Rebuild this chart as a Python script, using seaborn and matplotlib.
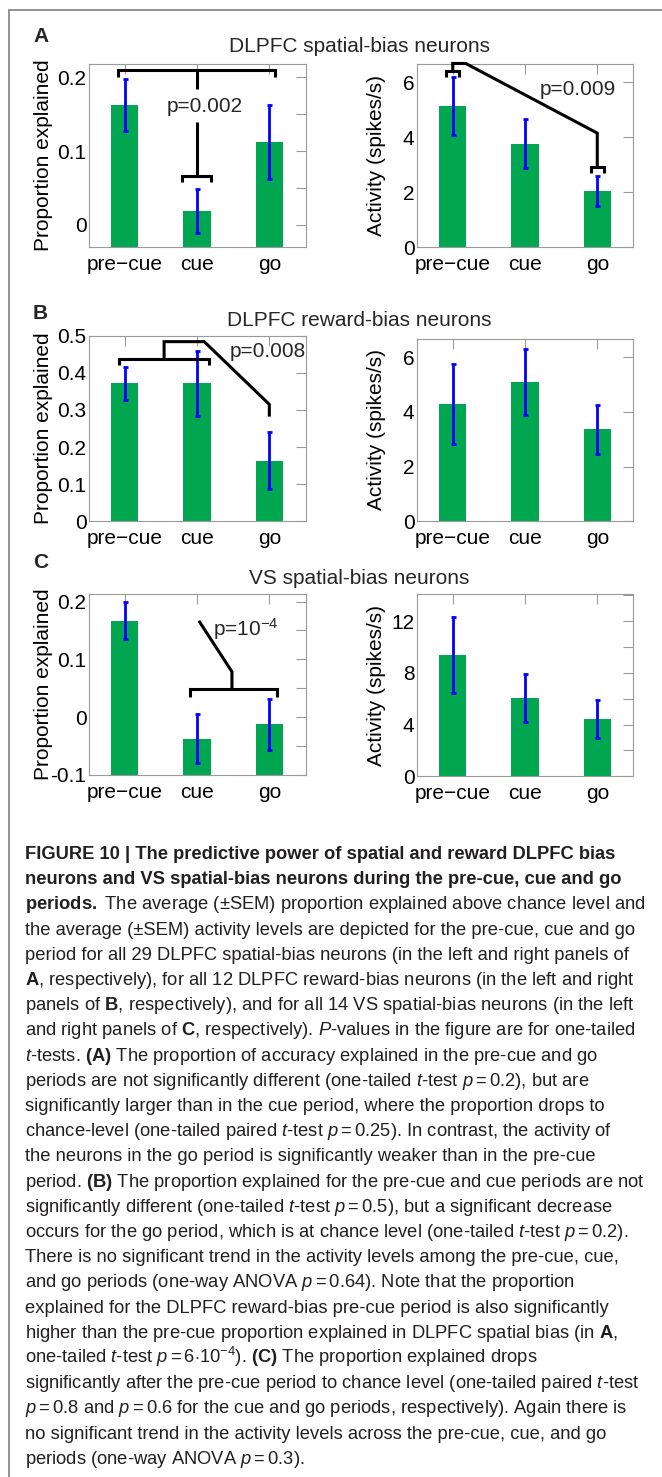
"""Figure 10: predictive power of DLPFC and VS bias neurons."""

import matplotlib
matplotlib.use("Agg")
import matplotlib.pyplot as plt
from matplotlib.lines import Line2D
from matplotlib.ticker import FuncFormatter, MultipleLocator
import pandas as pd
import seaborn as sns

W, H = 662, 1477
GREEN = "#00a650"
BLUE = "#0000ff"
AXIS_GREY = "#9a9a9a"
TEXT = "#231f20"

periods = ["pre\u2212cue", "cue", "go"]

# A: DLPFC spatial-bias neurons
spatial_prop = [0.162, 0.019, 0.112]
spatial_prop_sem = [0.035, 0.030, 0.050]
spatial_rate = [5.14, 3.77, 2.05]
spatial_rate_sem = [1.05, 0.88, 0.55]

# B: DLPFC reward-bias neurons
reward_prop = [0.372, 0.372, 0.163]
reward_prop_sem = [0.044, 0.088, 0.077]
reward_rate = [4.29, 5.09, 3.37]
reward_rate_sem = [1.47, 1.20, 0.90]

# C: VS spatial-bias neurons
vs_prop = [0.167, -0.037, -0.012]
vs_prop_sem = [0.032, 0.043, 0.044]
vs_rate = [9.39, 6.05, 4.45]
vs_rate_sem = [2.96, 1.83, 1.48]

panel_letters = ["A", "B", "C"]
panel_titles = ["DLPFC spatial-bias neurons", "DLPFC reward-bias neurons",
                "VS spatial-bias neurons"]
p_labels = ["p=0.002", "p=0.009", "p=0.008", "p=10$^{-4}$"]

caption_lines = [
    "FIGURE 10 | The predictive power of spatial and reward DLPFC bias",
    "neurons and VS spatial-bias neurons during the pre-cue, cue and go",
    r"$\mathbf{periods.}$ The average (±SEM) proportion explained above chance level and",
    "the average (±SEM) activity levels are depicted for the pre-cue, cue and go",
    "period for all 29 DLPFC spatial-bias neurons (in the left and right panels of",
    r"$\mathbf{A}$, respectively), for all 12 DLPFC reward-bias neurons (in the left and right",
    r"panels of $\mathbf{B}$, respectively), and for all 14 VS spatial-bias neurons (in the left",
    r"and right panels of $\mathbf{C}$, respectively). $P$-values in the figure are for one-tailed",
    r"$t$-tests. $\mathbf{(A)}$ The proportion of accuracy explained in the pre-cue and go",
    r"periods are not significantly different (one-tailed $t$-test $p = 0.2$), but are",
    "significantly larger than in the cue period, where the proportion drops to",
    r"chance-level (one-tailed paired $t$-test $p = 0.25$). In contrast, the activity of",
    "the neurons in the go period is significantly weaker than in the pre-cue",
    r"period. $\mathbf{(B)}$ The proportion explained for the pre-cue and cue periods are not",
    r"significantly different (one-tailed $t$-test $p = 0.5$), but a significant decrease",
    r"occurs for the go period, which is at chance level (one-tailed $t$-test $p = 0.2$).",
    "There is no significant trend in the activity levels among the pre-cue, cue,",
    r"and go periods (one-way ANOVA $p = 0.64$). Note that the proportion",
    "explained for the DLPFC reward-bias pre-cue period is also significantly",
    r"higher than the pre-cue proportion explained in DLPFC spatial bias (in $\mathbf{A}$,",
    r"one-tailed $t$-test $p = 6{\cdot}10^{-4}$). $\mathbf{(C)}$ The proportion explained drops",
    r"significantly after the pre-cue period to chance level (one-tailed paired $t$-test",
    r"$p = 0.8$ and $p = 0.6$ for the cue and go periods, respectively). Again there is",
    "no significant trend in the activity levels across the pre-cue, cue, and go",
    r"periods (one-way ANOVA $p = 0.3$).",
]

LINE = dict(color="black", lw=2.2, clip_on=False, solid_joinstyle="miter",
            solid_capstyle="butt", zorder=4)


def add_axes(fig, x0, y0, x1, y1):
    # pixel box (top-left origin) -> figure fraction
    return fig.add_axes([x0 / W, 1 - y1 / H, (x1 - x0) / W, (y1 - y0) / H])


def bar_panel(ax, means, sems, ylim, major, minor, ylabel, label_x):
    df = pd.DataFrame({"period": periods, "value": means})
    sns.barplot(data=df, x="period", y="value", order=periods, color=GREEN,
                saturation=1, width=0.38, linewidth=0, errorbar=None, ax=ax)
    # MATLAB-style bars start at the bottom of the axis
    for p in ax.patches:
        top = p.get_y() + p.get_height()
        p.set_y(ylim[0])
        p.set_height(top - ylim[0])
    ax.errorbar(range(len(periods)), means, yerr=sems, fmt="none", ecolor=BLUE,
                elinewidth=2, capsize=1.8, capthick=2, zorder=3)
    ax.set_xlim(-0.5, 2.5)
    ax.set_ylim(*ylim)
    ax.yaxis.set_major_locator(MultipleLocator(major))
    if minor:
        ax.yaxis.set_minor_locator(MultipleLocator(minor))
    ax.yaxis.set_major_formatter(FuncFormatter(lambda v, pos: f"{round(v, 6) + 0:g}"))
    ax.tick_params(which="both", direction="in", length=7, width=0.8,
                   color=AXIS_GREY, top=True, right=True, labelsize=15,
                   labelcolor="black")
    ax.tick_params(axis="y", pad=1.5)
    ax.tick_params(axis="x", pad=5.5)
    for s in ax.spines.values():
        s.set_visible(True)
        s.set_color(AXIS_GREY)
        s.set_linewidth(0.8)
    ax.set_xlabel("")
    ax.set_ylabel(ylabel, fontsize=15, color="black")
    ax.yaxis.set_label_coords(label_x, 0.5)


def bracket(ax, x0, x1, y, leg):
    ax.plot([x0, x0, x1, x1], [y - leg, y, y, y - leg], **LINE)


def main():
    sns.set_style("white")
    plt.rcParams["font.family"] = ["Liberation Sans", "DejaVu Sans"]
    plt.rcParams["mathtext.fontset"] = "custom"
    plt.rcParams["mathtext.rm"] = "Liberation Sans"
    plt.rcParams["mathtext.it"] = "Liberation Sans:italic"
    plt.rcParams["mathtext.bf"] = "Liberation Sans:bold"

    fig = plt.figure(figsize=(W / 100, H / 100), dpi=100)

    prop_label = "Proportion explained"
    rate_label = "Activity (spikes/s)"
    left_lab, right_lab = -0.165, -0.142

    # A
    ax = add_axes(fig, 88.5, 64, 305.5, 247)
    bar_panel(ax, spatial_prop, spatial_prop_sem, (-0.03, 0.218), 0.1, 0.05,
              prop_label, left_lab)
    bracket(ax, -0.095, 2.08, 0.21, 0.009)
    ax.plot([1, 1], [0.21, 0.184], **LINE)
    ax.plot([1, 1], [0.14, 0.066], **LINE)
    bracket(ax, 0.793, 1.194, 0.066, 0.008)
    ax.text(1.105, 0.160, p_labels[0], fontsize=15, ha="center", va="center")

    ax = add_axes(fig, 416.6, 64.3, 633.4, 247.3)
    bar_panel(ax, spatial_rate, spatial_rate_sem, (0, 6.65), 2, None,
              rate_label, right_lab)
    bracket(ax, -0.087, 0.087, 6.42, 0.22)
    ax.plot([0, 0, 0.18, 2, 2], [6.42, 6.68, 6.68, 4.15, 2.9], **LINE)
    bracket(ax, 1.913, 2.087, 2.9, 0.21)
    ax.text(1.735, 5.72, p_labels[1], fontsize=15, ha="center", va="center")

    # B
    ax = add_axes(fig, 88.5, 335.7, 305.5, 521.3)
    bar_panel(ax, reward_prop, reward_prop_sem, (0, 0.5), 0.1, None,
              prop_label, left_lab)
    bracket(ax, -0.08, 1.17, 0.437, 0.016)
    ax.plot([0.545, 0.545, 1.10, 2, 2], [0.437, 0.484, 0.484, 0.315, 0.282], **LINE)
    ax.text(1.975, 0.457, p_labels[2], fontsize=15, ha="center", va="center")

    ax = add_axes(fig, 416.6, 338.7, 633.4, 521.3)
    bar_panel(ax, reward_rate, reward_rate_sem, (0, 6.68), 2, None,
              rate_label, right_lab)

    # C
    ax = add_axes(fig, 88.5, 594, 305.5, 775)
    bar_panel(ax, vs_prop, vs_prop_sem, (-0.1, 0.213), 0.1, 0.05,
              prop_label, left_lab)
    bracket(ax, 0.903, 2.109, 0.048, 0.0125)
    ax.plot([1.483, 1.483, 1.026], [0.048, 0.0786, 0.1666], **LINE)
    ax.text(1.68, 0.152, p_labels[3], fontsize=15, ha="center", va="center")

    ax = add_axes(fig, 416.6, 594, 633.4, 776.3)
    bar_panel(ax, vs_rate, vs_rate_sem, (0, 14.1), 4, 2, rate_label, right_lab)

    # panel titles and letters
    for letter, title, ly, ty in zip(panel_letters, panel_titles,
                                     [37, 313.3, 563], [46.7, 320.7, 578.3]):
        fig.text(33 / W, 1 - ly / H, letter, fontsize=15, fontweight="bold",
                 ha="left", va="center")
        fig.text(359.3 / W, 1 - ty / H, title, fontsize=15, ha="center", va="center")

    # caption
    for i, line in enumerate(caption_lines):
        fig.text(25.3 / W, 1 - (859 + 25.2 * i) / H, line, fontsize=13.2,
                 fontweight="bold" if i < 2 else "normal", color=TEXT,
                 ha="left", va="baseline")

    # outer frame (top and left edges only)
    frame = dict(color="#808080", lw=1.2)
    fig.add_artist(Line2D([8.5 / W, 1], [1 - 10 / H, 1 - 10 / H], **frame))
    fig.add_artist(Line2D([8.5 / W, 8.5 / W], [1 - 10 / H, 0], **frame))

    fig.savefig("out.png", dpi=100)
    plt.close(fig)


if __name__ == "__main__":
    main()
